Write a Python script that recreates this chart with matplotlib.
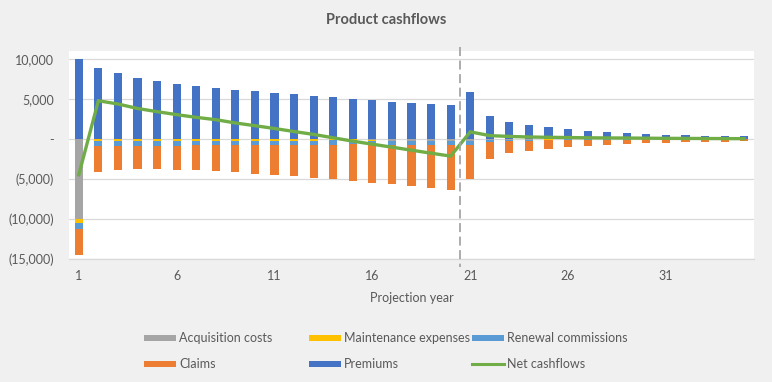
import numpy as np
import matplotlib
matplotlib.use("Agg")
from matplotlib import pyplot as plt
from matplotlib.patches import Rectangle
from matplotlib.lines import Line2D

# ---- data ----
years = list(range(1, 36))

premiums = [9950, 8900, 8200, 7600, 7200, 6870, 6580, 6370, 6130, 5970,
            5770, 5600, 5400, 5190, 4980, 4810, 4650, 4480, 4310, 4190,
            5850, 2900, 2060, 1690, 1440, 1190, 1020, 850, 770, 560,
            480, 440, 400, 400, 310]

acquisition = [-9980, 0, 0, 0, 0, 0, 0, 0, 0, 0,
               0, 0, 0, 0, 0, -200, -260, -260, -260, -260,
               -250, -180, -120, -100, -80, -60, -50, -40, -40, -30,
               -30, -20, -20, -20, -10]

maintenance = [-540, -300, -300, -290, -290, -280, -280, -270, -260, -250,
               -240, -230, -220, -200, -180, -80, -40, -40, -40, -40,
               -30, -20, -20, -20, -10, -10, -10, -10, -10, -10,
               -10, -10, -10, -10, -10]

renewal = [-700, -600, -580, -570, -560, -560, -550, -550, -540, -540,
           -530, -530, -520, -520, -510, -500, -490, -480, -470, -460,
           -450, -200, -120, -90, -70, -60, -50, -40, -35, -30,
           -25, -20, -20, -15, -10]

claims = [-3220, -3250, -2970, -2950, -2960, -3010, -3070, -3160, -3350, -3540,
          -3710, -3930, -4110, -4340, -4580, -4700, -4900, -5120, -5330, -5590,
          -4250, -2120, -1510, -1310, -1070, -930, -830, -680, -565, -490,
          -415, -390, -350, -305, -200]

net = [-4490, 4750, 4350, 3790, 3390, 3020, 2680, 2390, 1980, 1640,
       1290, 910, 550, 130, -290, -670, -1040, -1420, -1790, -2160,
       870, 400, 300, 230, 190, 160, 130, 110, 100, 80,
       60, 50, 40, 30, 20]

y_ticks = [-15000, -10000, -5000, 0, 5000, 10000]
y_labels = ['(15,000)', '(10,000)', '(5,000)', '-', '5,000', '10,000']
x_ticks = [1, 6, 11, 16, 21, 26, 31]

# Excel office colours
c_acq = '#A5A5A5'
c_maint = '#FFC000'
c_renew = '#5B9BD5'
c_claims = '#ED7D31'
c_prem = '#4472C4'
c_net = '#70AD47'
txt = '#595959'

plt.rcParams['font.family'] = ['Lato', 'DejaVu Sans']

fig = plt.figure(figsize=(7.72, 3.82), dpi=100)
fig.patch.set_facecolor('#F0F0F0')

W, H = 772.0, 382.0
ax = fig.add_axes([69/W, 1-259/H, (754-69)/W, (259-50.7)/H])
ax.set_facecolor('white')

x = np.array(years)
bw = 0.42

# negative stack: acquisition, maintenance, renewal, claims (downwards)
bottom = np.zeros(len(years))
for vals, col in [(acquisition, c_acq), (maintenance, c_maint), (renewal, c_renew), (claims, c_claims)]:
	v = np.array(vals, dtype=float)
	ax.bar(x, v, bw, bottom=bottom, color=col, zorder=2, linewidth=0)
	bottom = bottom + v

ax.bar(x, premiums, bw, color=c_prem, zorder=2, linewidth=0)

ax.plot(x, net, color=c_net, linewidth=2.4, zorder=3, solid_joinstyle='miter')

# boundary between tranches
ax.plot([20.5, 20.5], [11400, -16000], color='#A6A6A6', linewidth=1.3,
	linestyle=(0, (5, 2.5)), clip_on=False, zorder=4)

ax.set_xlim(0.5, 35.5)
ax.set_ylim(-15000, 11000)

ax.set_yticks(y_ticks)
ax.set_yticklabels(y_labels)
ax.set_xticks(x_ticks)
ax.set_xticklabels([str(t) for t in x_ticks])

ax.grid(axis='y', color='#D9D9D9', linewidth=0.9, zorder=0)
ax.set_axisbelow(True)
for s in ['top', 'left', 'right']:
	ax.spines[s].set_visible(False)
ax.spines['bottom'].set_color('#D9D9D9')
ax.spines['bottom'].set_linewidth(0.9)

ax.tick_params(axis='both', length=0, labelsize=9, colors=txt)
ax.tick_params(axis='y', pad=11)
ax.tick_params(axis='x', pad=8)

ax.set_xlabel('Projection year', fontsize=9, color=txt, labelpad=7)

fig.text(0.5, 1-20/H, 'Product cashflows', ha='center', va='center',
	fontsize=10.5, fontweight='bold', color=txt)

# legend laid out like the Excel one (3 columns, 2 rows)
entries = [
	('Acquisition costs', c_acq, 144, 338, 'bar'),
	('Maintenance expenses', c_maint, 309, 338, 'bar'),
	('Renewal commissions', c_renew, 472, 338, 'bar'),
	('Claims', c_claims, 144, 364, 'bar'),
	('Premiums', c_prem, 309, 364, 'bar'),
	('Net cashflows', c_net, 472, 364, 'line'),
]
for label, col, px, py, kind in entries:
	if kind == 'bar':
		fig.patches.append(Rectangle((px/W, 1-(py+3)/H), 32/W, 6/H,
			transform=fig.transFigure, facecolor=col, edgecolor='none'))
	else:
		fig.lines.append(Line2D([px/W, (px+32)/W], [1-py/H, 1-py/H],
			transform=fig.transFigure, color=col, linewidth=2.2))
	fig.text((px+35)/W, 1-py/H, label, ha='left', va='center', fontsize=9, color=txt)

plt.savefig('out.png', dpi=100, facecolor=fig.get_facecolor())
